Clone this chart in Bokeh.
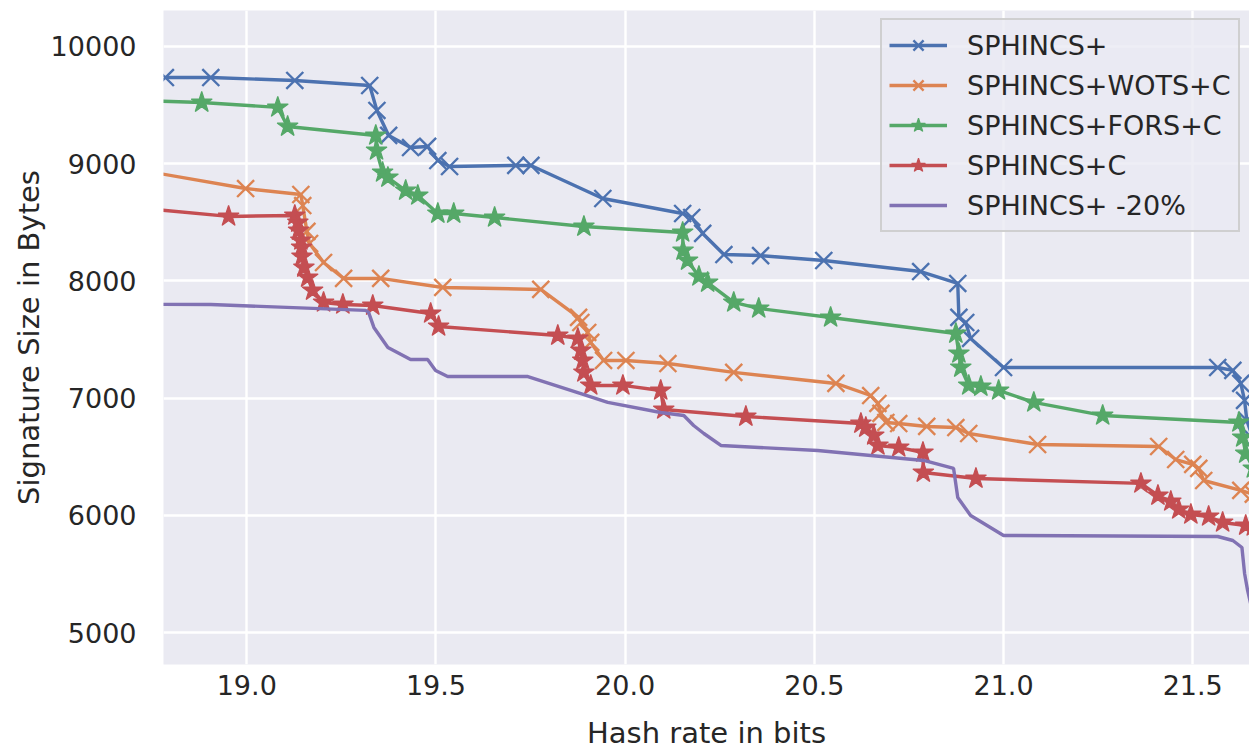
from bokeh.plotting import figure
from bokeh.models import Legend, LegendItem, FixedTicker, NumeralTickFormatter
from bokeh.embed import file_html
from bokeh.resources import INLINE

# ---------------- data ----------------
sp_x = [18.785, 18.905, 19.127, 19.325, 19.344, 19.375, 19.433, 19.478, 19.505, 19.536,
        19.711, 19.751, 19.941, 20.152, 20.176, 20.205, 20.261, 20.358, 20.525, 20.781,
        20.879, 20.882, 20.900, 20.913, 21.000, 21.566, 21.606, 21.627, 21.637, 21.643, 21.66]
sp_y = [9735, 9735, 9710, 9667, 9454, 9241, 9138, 9147, 9027, 8976,
        8985, 8985, 8703, 8575, 8541, 8405, 8225, 8216, 8174, 8080,
        7978, 7688, 7645, 7509, 7261, 7261, 7236, 7125, 6980, 6809, 6650]

wots_x = [18.70, 18.997, 19.143, 19.148, 19.159, 19.166, 19.203, 19.256, 19.354, 19.518,
          19.777, 19.877, 19.883, 19.901, 19.909, 19.943, 20.002, 20.113, 20.287, 20.557,
          20.649, 20.668, 20.676, 20.689, 20.723, 20.797, 20.874, 20.908, 21.090, 21.410,
          21.455, 21.500, 21.516, 21.529, 21.627, 21.66]
wots_y = [8955, 8788, 8737, 8643, 8422, 8319, 8157, 8021, 8021, 7944,
          7927, 7688, 7645, 7560, 7475, 7321, 7321, 7295, 7219, 7125,
          7022, 6954, 6869, 6792, 6783, 6758, 6749, 6698, 6604, 6587,
          6476, 6434, 6400, 6297, 6212, 6180]

fors_x = [18.70, 18.881, 19.082, 19.108, 19.341, 19.343, 19.359, 19.373, 19.420, 19.452,
          19.505, 19.547, 19.655, 19.891, 20.152, 20.153, 20.165, 20.195, 20.218, 20.287,
          20.353, 20.543, 20.874, 20.882, 20.887, 20.908, 20.940, 20.987, 21.080, 21.262,
          21.622, 21.632, 21.640, 21.66]
fors_y = [9540, 9522, 9480, 9317, 9241, 9113, 8925, 8882, 8771, 8729,
          8575, 8575, 8541, 8464, 8413, 8259, 8174, 8038, 7986, 7816,
          7765, 7688, 7551, 7381, 7261, 7108, 7099, 7065, 6963, 6852,
          6792, 6664, 6527, 6400]

c_x = [18.70, 18.952, 19.127, 19.135, 19.137, 19.143, 19.145, 19.146, 19.151, 19.161,
       19.174, 19.203, 19.254, 19.333, 19.486, 19.507, 19.822, 19.875, 19.883, 19.888,
       19.891, 19.909, 19.994, 20.094, 20.102, 20.319, 20.623, 20.636, 20.657, 20.668,
       20.723, 20.787, 20.788, 20.927, 21.363, 21.408, 21.442, 21.463, 21.495, 21.542,
       21.579, 21.640, 21.66]
c_y = [8626, 8550, 8558, 8498, 8430, 8345, 8285, 8208, 8114, 8029,
       7918, 7816, 7799, 7790, 7722, 7611, 7534, 7509, 7406, 7321,
       7219, 7108, 7108, 7065, 6903, 6843, 6783, 6749, 6681, 6596,
       6579, 6536, 6365, 6314, 6272, 6169, 6118, 6050, 6007, 5990,
       5939, 5913, 5905]

m20_x = [18.70, 18.905, 19.314, 19.322, 19.336, 19.373, 19.433, 19.478, 19.499, 19.531,
         19.743, 19.883, 19.954, 20.094, 20.155, 20.181, 20.208, 20.253, 20.509, 20.789,
         20.868, 20.879, 20.913, 21.000, 21.566, 21.606, 21.630, 21.637, 21.645, 21.66]
m20_y = [7800, 7799, 7748, 7731, 7603, 7432, 7329, 7329, 7236, 7184,
         7184, 7039, 6963, 6877, 6852, 6766, 6698, 6596, 6553, 6468,
         6400, 6152, 5998, 5828, 5819, 5785, 5725, 5504, 5359, 5150]

labels = ["SPHINCS+", "SPHINCS+WOTS+C", "SPHINCS+FORS+C", "SPHINCS+C", "SPHINCS+ -20%"]
x_ticks = [19.0, 19.5, 20.0, 20.5, 21.0, 21.5]
y_ticks = [5000, 6000, 7000, 8000, 9000, 10000]

# ---------------- styling ----------------
FONT = "DejaVu Sans"
TXT = "#262626"
BG = "#EAEAF2"
COLORS = ["#4C72B0", "#DD8452", "#55A868", "#C44E52", "#8172B3"]

p = figure(width=1249, height=752, x_range=(18.78, 21.65), y_range=(4727, 10307),
           output_backend="svg", toolbar_location=None,
           min_border_left=163, min_border_right=0, min_border_top=10, min_border_bottom=88,
           background_fill_color=BG, border_fill_color="white", outline_line_color=None)

for ax in (p.xaxis[0], p.yaxis[0]):
    ax.axis_line_color = None
    ax.major_tick_line_color = None
    ax.minor_tick_line_color = None
    ax.major_label_text_font = FONT
    ax.major_label_text_font_size = "27px"
    ax.major_label_text_color = TXT
    ax.axis_label_text_font = FONT
    ax.axis_label_text_font_size = "29px"
    ax.axis_label_text_font_style = "normal"
    ax.axis_label_text_color = TXT

p.xaxis.ticker = FixedTicker(ticks=x_ticks)
p.yaxis.ticker = FixedTicker(ticks=y_ticks)
p.xaxis.formatter = NumeralTickFormatter(format="0.0")
p.yaxis.formatter = NumeralTickFormatter(format="0")
p.xaxis.major_label_standoff = 4
p.yaxis.major_label_standoff = 21
p.yaxis.axis_label = "Signature Size in Bytes"
p.yaxis.axis_label_standoff = 2
p.xaxis.axis_label = "Hash rate in bits"
p.xaxis.axis_label_standoff = 18

p.grid.grid_line_color = "white"
p.grid.grid_line_width = 2.4

LW = 3.4
items = []
series = [(sp_x, sp_y, "x"), (wots_x, wots_y, "x"), (fors_x, fors_y, "star"),
          (c_x, c_y, "star"), (m20_x, m20_y, None)]
for (xs, ys, mk), col, lab in zip(series, COLORS, labels):
    rs = [p.line(xs, ys, line_color=col, line_width=LW)]
    if mk == "x":
        rs.append(p.scatter(xs, ys, marker="x", size=24, line_color=col, line_width=2.4))
    elif mk == "star":
        rs.append(p.scatter(xs, ys, marker="star", size=22, fill_color=col,
                            line_color=col, line_width=1.2))
    items.append(LegendItem(label=lab, renderers=rs))

legend = Legend(items=items, location=(717, 432),
                label_text_font=FONT, label_text_font_size="27px", label_text_color=TXT,
                glyph_width=58, glyph_height=36, label_height=36, label_standoff=20,
                spacing=4, padding=7, margin=0,
                background_fill_color=BG, background_fill_alpha=0.8,
                border_line_color="#cccccc", border_line_width=2, border_line_alpha=0.9)
p.add_layout(legend)

open("out.html", "w").write(file_html(p, INLINE))
